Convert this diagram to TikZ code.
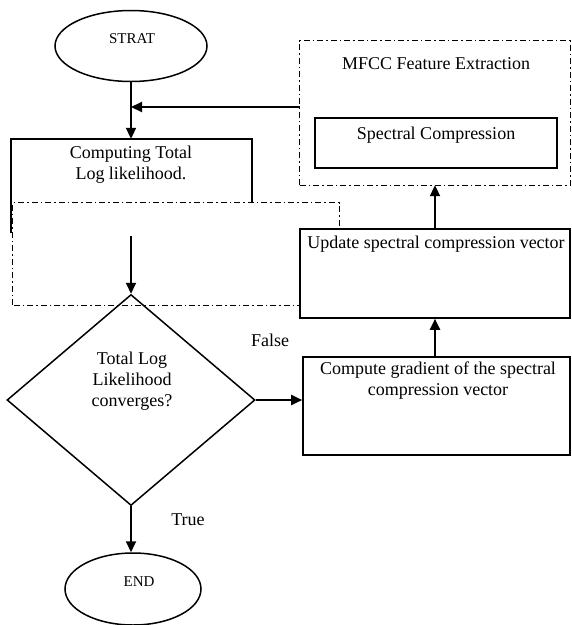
\documentclass[tikz,border=0pt]{standalone}
\usepackage{fontspec}
\setmainfont{Liberation Serif}
\usetikzlibrary{shapes.geometric,arrows.meta}
\tikzset{
  px/.style={x=1pt,y=-1pt},
  oval/.style={ellipse,draw,line width=1.5pt,inner sep=0pt},
  ovaltxt/.style={inner sep=0pt,font=\fontsize{15}{18}\selectfont},
  boxshape/.style={rectangle,draw,line width=1.6pt,inner sep=0pt},
  noshape/.style={rectangle,inner sep=0pt},
  dashdot/.style={line width=1.3pt,dash pattern=on 6pt off 3pt on 1.5pt off 3pt},
  txt/.style={align=center,inner sep=0pt,font=\fontsize{18}{21}\selectfont},
  arr/.style={line width=2pt,-{Triangle[length=11pt,width=10pt]}},
  plain/.style={line width=1.6pt}
}
\begin{document}
\begin{tikzpicture}[px]
\useasboundingbox (0,0) rectangle (572,625);
% lower dash-dot region (partly hidden by update box)
\node[noshape,minimum width=326pt,minimum height=102pt] (region) at (176,254) {};
\draw[dashdot] (region.south west) rectangle (region.north east);
% MFCC group
\node[noshape,minimum width=270pt,minimum height=144pt] (mfcc) at (435,113) {};
\draw[dashdot] (mfcc.south west) rectangle (mfcc.north east);
\node[txt] (mfcct) at (436,64) {MFCC Feature Extraction};
\node[boxshape,minimum width=242pt,minimum height=50pt] (spec) at (436,143) {};
\node[txt] (spect) at (436,135) {Spectral Compression};
% start
\node[oval,minimum width=152pt,minimum height=71pt] (start) at (131,46) {};
\node[ovaltxt] (startt) at (132,39) {STRAT};
% computing box (open at bottom)
\node[noshape,minimum width=241pt,minimum height=94pt] (comp) at (131.5,186) {};
\draw[plain] (comp.south west) -- (comp.north west) -- (comp.north east) -- ++(0,64);
\node[txt] (compt) at (131,165) {Computing Total\\Log likelihood.};
% update box
\node[boxshape,fill=white,minimum width=270pt,minimum height=89pt] (upd) at (435,273.5) {};
\node[txt] (updt) at (436,244) {Update spectral compression vector};
% gradient box
\node[boxshape,minimum width=267pt,minimum height=98pt] (grad) at (436.5,406) {};
\node[txt] (gradt) at (438,381) {Compute gradient of the spectral\\compression vector};
% decision
\node[diamond,draw,line width=1.5pt,inner sep=0pt,minimum width=248pt,minimum height=211pt] (dec) at (131,400) {};
\node[txt] (dect) at (132,381) {Total Log\\Likelihood\\converges?};
% end
\node[oval,minimum width=136pt,minimum height=72pt] (end) at (133,589) {};
\node[ovaltxt] (endt) at (139,582) {END};
% labels
\node[txt] (false) at (270,340) {False};
\node[txt] (true) at (188,520) {True};
% connectors
\coordinate (j) at (131,107);
\coordinate (c2) at (131,236);
\draw[arr] (start.south -| j) -- (comp.north -| j);
\draw[arr] (mfcc.west |- j) -- (j);
\draw[arr] (c2) -- (dec.north);
\draw[arr] (dec.east) -- (dec.east -| grad.west);
\draw[arr] (grad.north -| upd.south) -- (upd.south);
\draw[arr] (upd.north) -- (mfcc.south);
\draw[arr] (dec.south) -- (dec.south |- end.north);
\end{tikzpicture}
\end{document}
